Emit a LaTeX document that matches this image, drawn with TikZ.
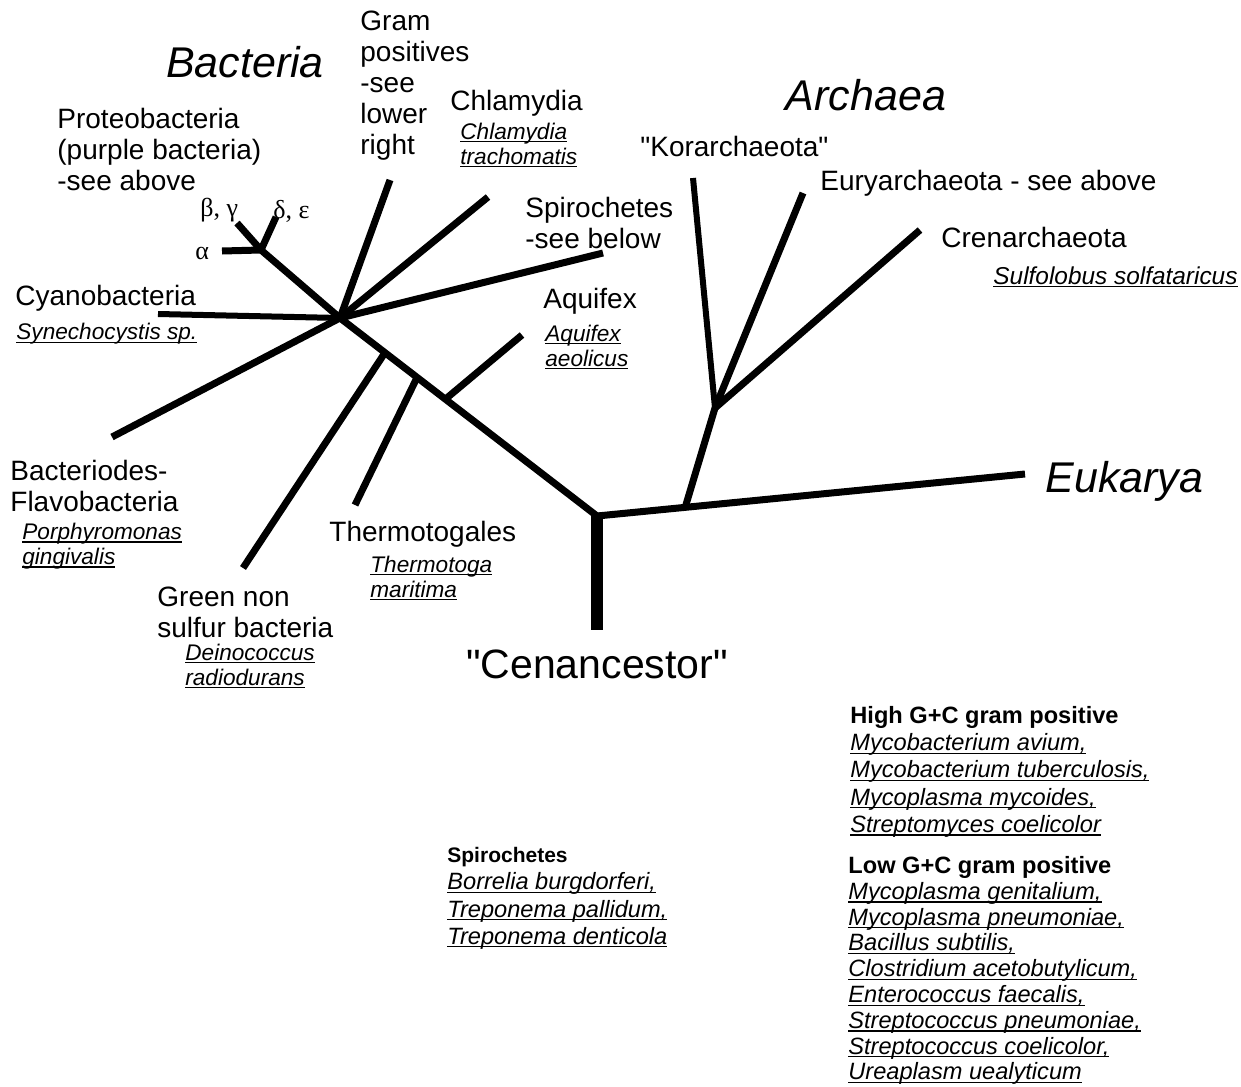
\documentclass[tikz,border=0pt]{standalone}
\usepackage{fontspec}
\setmainfont{Liberation Sans}
\newfontfamily\greekfont{Liberation Serif}
\usetikzlibrary{calc}
\newsavebox\taxbox
\newcommand{\taxon}[1]{\sbox\taxbox{\itshape #1}\rlap{\rule[-1.6pt]{\wd\taxbox}{0.55pt}}\usebox\taxbox}

\begin{document}
\begin{tikzpicture}[
  x=0.5pt, y=-0.5pt,
  br/.style={line width=3.5pt, draw=black},
  lbl/.style={font=\fontsize{14}{15.5}\selectfont, align=left, anchor=west, inner sep=0pt},
  spc/.style={font=\fontsize{11.3}{12.5}\selectfont, align=left, anchor=west, inner sep=0pt},
  grk/.style={font=\greekfont\fontsize{13}{15}\selectfont, anchor=west, inner sep=0pt},
  big/.style={font=\fontsize{21.5}{24}\selectfont\itshape, inner sep=0pt},
  lst/.style={font=\fontsize{11.8}{13.2}\selectfont, align=left, anchor=north west, inner sep=0pt},
]
\useasboundingbox (0,0) rectangle (1241,1086);

% Bacteria: branch points and tips
\coordinate (hub) at (340,318);
\coordinate (root) at (597,516);
\coordinate (proJ) at (261,250);
\coordinate (alpha) at (222,251);
\coordinate (bg) at (237,223);
\coordinate (de) at (276,217);
\coordinate (gram) at (390,180);
\coordinate (chl) at (488,197);
\coordinate (spi) at (603,253);
\coordinate (cya) at (158,314);
\coordinate (bfl) at (112,437);
\coordinate (gnsJ) at ($(hub)!0.175!(root)$);
\coordinate (thmJ) at ($(hub)!0.30!(root)$);
\coordinate (aquJ) at ($(hub)!0.41!(root)$);
\coordinate (gns) at (243,568);
\coordinate (thm) at (355,505);
\coordinate (aqu) at (522,335);
% Archaea / Eukarya
\coordinate (base) at (597,630);
\coordinate (euk) at (1025,474);
\coordinate (archJ) at ($(root)!0.206!(euk)$);
\coordinate (arch) at (715,408);
\coordinate (kor) at (693,178);
\coordinate (eury) at (803,193);
\coordinate (cren) at (920,230);

\draw[br] (hub) -- (proJ) -- (alpha);
\draw[br] (proJ) -- (bg);
\draw[br] (proJ) -- (de);
\draw[br] (hub) -- (gram);
\draw[br] (hub) -- (chl);
\draw[br] (hub) -- (spi);
\draw[br, line width=3pt] (hub) -- (cya);
\draw[br] (hub) -- (bfl);
\draw[br] (hub) -- (root);
\draw[br] (gnsJ) -- (gns);
\draw[br] (thmJ) -- (thm);
\draw[br] (aquJ) -- (aqu);
\draw[br, line width=6pt] (root) -- (base);
\draw[br] (root) -- (euk);
\draw[br] (archJ) -- (arch);
\draw[br, line width=3pt] (arch) -- (kor);
\draw[br] (arch) -- (eury);
\draw[br] (arch) -- (cren);

% domain names
\node[big] (bacteria) at (245,62) {Bacteria};
\node[big] (archaea) at (866,95) {Archaea};
\node[big, anchor=west] (eukarya) at (1045,481) {Eukarya};
\node[big, font=\fontsize{20.5}{24}\selectfont] (cenanc) at (597,664) {\textquotedbl Cenancestor\textquotedbl};

% group labels
\node[lbl] (gramL) at (360,86) {Gram\\positives\\-see\\lower\\right};
\node[lbl] (proL) at (57,149) {Proteobacteria\\(purple bacteria)\\-see above};
\node[lbl] (chlL) at (450,103) {Chlamydia};
\node[spc] (chlS) at (460,145) {\taxon{Chlamydia}\\\taxon{trachomatis}};
\node[lbl] (korL) at (640,146) {\textquotedbl Korarchaeota\textquotedbl};
\node[lbl] (euryL) at (820,183) {Euryarchaeota - see above};
\node[lbl] (crenL) at (941,237) {Crenarchaeota};
\node[spc, font=\fontsize{12.2}{13}\selectfont] (crenS) at (993,277) {\taxon{Sulfolobus solfataricus}};
\node[lbl] (spiL) at (525,223) {Spirochetes\\-see below};
\node[lbl] (cyaL) at (15,298) {Cyanobacteria};
\node[spc] (cyaS) at (16,334) {\taxon{Synechocystis sp.}};
\node[lbl] (aquL) at (543,301) {Aquifex};
\node[spc] (aquS) at (545,347) {\taxon{Aquifex}\\\taxon{aeolicus}};
\node[lbl] (bflL) at (10,486) {Bacteriodes-\\Flavobacteria};
\node[spc] (bflS) at (22,546) {\taxon{Porphyromonas}\\\taxon{gingivalis}};
\node[lbl] (thmL) at (329,534) {Thermotogales};
\node[spc] (thmS) at (370,578) {\taxon{Thermotoga}\\\taxon{maritima}};
\node[lbl] (gnsL) at (157,612) {Green non\\sulfur bacteria};
\node[spc] (gnsS) at (185,666) {\taxon{Deinococcus}\\\taxon{radiodurans}};

% proteobacteria subdivisions
\node[grk] (bgL) at (200,210) {β, γ};
\node[grk] (deL) at (273,211) {δ, ε};
\node[grk] (alphaL) at (195,253) {α};

% species lists
\node[lst, font=\fontsize{11.8}{13.6}\selectfont] (highGC) at (850,706) {\textbf{High G+C gram positive}\\
  \taxon{Mycobacterium avium,}\\
  \taxon{Mycobacterium tuberculosis,}\\
  \taxon{Mycoplasma mycoides,}\\
  \taxon{Streptomyces coelicolor}};
\node[lst, font=\fontsize{11.8}{12.9}\selectfont] (lowGC) at (848,856) {\textbf{Low G+C gram positive}\\
  \taxon{Mycoplasma genitalium,}\\
  \taxon{Mycoplasma pneumoniae,}\\
  \taxon{Bacillus subtilis,}\\
  \taxon{Clostridium acetobutylicum,}\\
  \taxon{Enterococcus faecalis,}\\
  \taxon{Streptococcus pneumoniae,}\\
  \taxon{Streptococcus coelicolor,}\\
  \taxon{Ureaplasm uealyticum}};
\node[lst, font=\fontsize{11.8}{13.6}\selectfont] (spiList) at (447,847) {{\fontsize{10.5}{13.6}\selectfont\bfseries Spirochetes}\\
  \taxon{Borrelia burgdorferi,}\\
  \taxon{Treponema pallidum,}\\
  \taxon{Treponema denticola}};
\end{tikzpicture}
\end{document}
